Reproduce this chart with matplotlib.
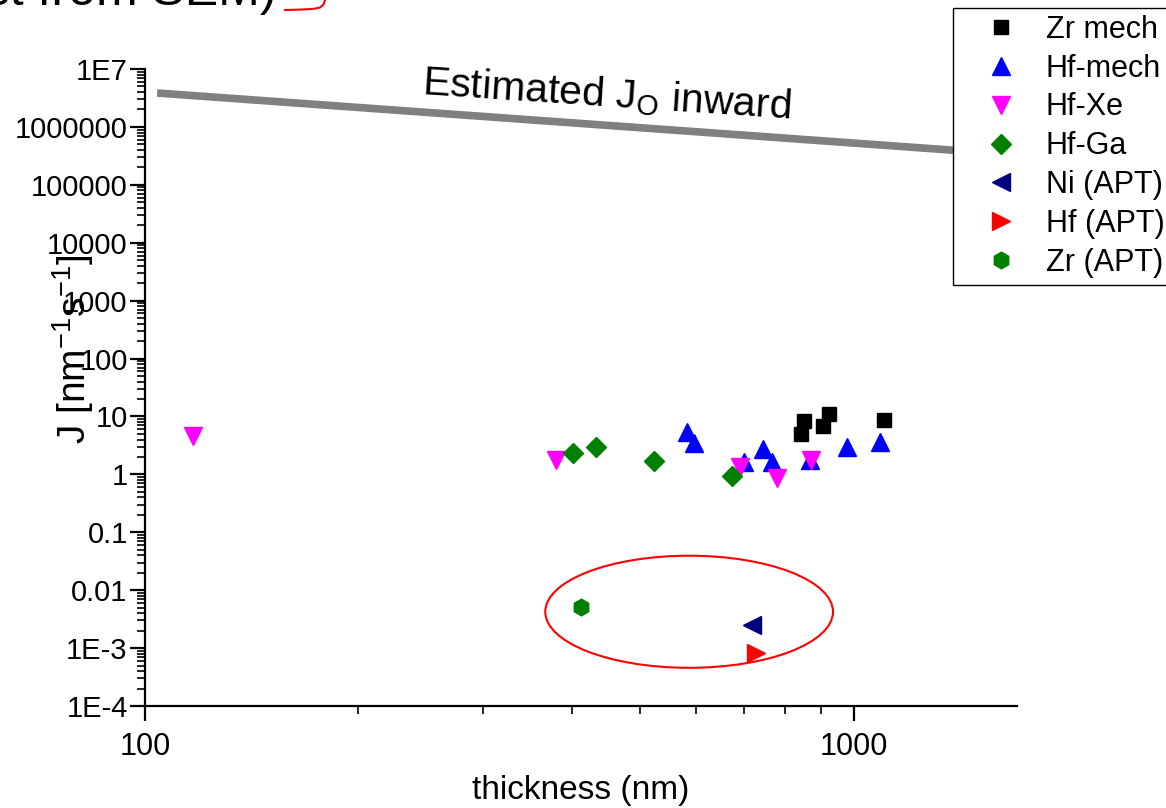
import numpy as np
import matplotlib
matplotlib.use("Agg")
import matplotlib.pyplot as plt
from matplotlib.patches import Ellipse
from matplotlib.lines import Line2D
from matplotlib.ticker import FixedLocator, FixedFormatter, LogLocator, NullFormatter

plt.rcParams['font.family'] = ['Liberation Sans', 'DejaVu Sans']
plt.rcParams['mathtext.fontset'] = 'custom'
plt.rcParams['mathtext.rm'] = 'Liberation Sans'
plt.rcParams['mathtext.it'] = 'Liberation Sans:italic'

# data (thickness in nm, J in nm^-1 s^-1)
zr_mech_x = [843, 851, 905, 923, 1102]
zr_mech_y = [4.97, 8.44, 6.9, 10.9, 8.68]
hf_mech_x = [582, 596, 700, 744, 767, 869, 979, 1090]
hf_mech_y = [5.44, 3.43, 1.65, 2.71, 1.65, 1.77, 2.92, 3.67]
hf_xe_x = [116.8, 380, 691, 779, 870]
hf_xe_y = [4.6, 1.77, 1.34, 0.86, 1.77]
hf_ga_x = [402, 433, 522, 673]
hf_ga_y = [2.36, 2.92, 1.72, 0.95]
ni_apt_x = [719]
ni_apt_y = [0.0025]
hf_apt_x = [728]
hf_apt_y = [0.00083]
zr_apt_x = [412]
zr_apt_y = [0.00516]

# estimated inward oxygen flux line
est_x = [104, 1700]
est_J = [3.85e6, 3.3e5]

ytick_vals = [1e-4, 1e-3, 1e-2, 1e-1, 1, 10, 100, 1e3, 1e4, 1e5, 1e6, 1e7]
ytick_labels = ['1E-4', '1E-3', '0.01', '0.1', '1', '10', '100', '1000',
                '10000', '100000', '1000000', '1E7']

fig = plt.figure(figsize=(11.66, 8.08), dpi=100)
ax = fig.add_axes([0.1244, 0.1262, 0.7478, 0.7884])

ax.plot(est_x, est_J, color='#808080', lw=5.5, solid_capstyle='butt', zorder=1)

ax.plot(zr_mech_x, zr_mech_y, 's', color='black', ms=10.5, ls='none', label='Zr mech')
ax.plot(hf_mech_x, hf_mech_y, '^', color='#0000ff', ms=13, ls='none', label='Hf-mech')
ax.plot(hf_xe_x, hf_xe_y, 'v', color='#ff00ff', ms=13, ls='none', label='Hf-Xe')
ax.plot(hf_ga_x, hf_ga_y, 'D', color='#008000', ms=10, ls='none', label='Hf-Ga')
ax.plot(ni_apt_x, ni_apt_y, '<', color='#000080', ms=13, ls='none', label='Ni (APT)')
ax.plot(hf_apt_x, hf_apt_y, '>', color='#ff0000', ms=13, ls='none', label='Hf (APT)')
ax.plot(zr_apt_x, zr_apt_y, 'h', color='#008000', ms=12, ls='none', label='Zr (APT)')

ax.set_xscale('log')
ax.set_yscale('log')
ax.set_xlim(100, 1700)
ax.set_ylim(1e-4, 1e7)

ax.yaxis.set_major_locator(FixedLocator(ytick_vals))
ax.yaxis.set_major_formatter(FixedFormatter(ytick_labels))
ax.yaxis.set_minor_locator(LogLocator(base=10, subs=np.arange(2, 10), numticks=30))
ax.yaxis.set_minor_formatter(NullFormatter())
ax.xaxis.set_major_locator(FixedLocator([100, 1000]))
ax.xaxis.set_major_formatter(FixedFormatter(['100', '1000']))
ax.xaxis.set_minor_locator(LogLocator(base=10, subs=np.arange(2, 10), numticks=30))
ax.xaxis.set_minor_formatter(NullFormatter())

for s in ['top', 'right']:
    ax.spines[s].set_visible(False)
for s in ['left', 'bottom']:
    ax.spines[s].set_linewidth(1.6)
ax.tick_params(which='major', direction='out', length=11, width=1.6)
ax.tick_params(axis='y', which='major', pad=1.5, labelsize=21)
ax.tick_params(axis='x', which='major', pad=8, labelsize=22)
ax.tick_params(which='minor', direction='out', length=6, width=1.2)

ax.set_xlabel('thickness (nm)', fontsize=24)
ax.xaxis.set_label_coords(0.5, -0.132)
ax.xaxis.label.set_va('center')
ax.set_ylabel('J [nm$^{-1}$s$^{-1}$]', fontsize=28)
ax.yaxis.set_label_coords(-0.083, 0.56)
ax.yaxis.label.set_va('center')

ax.text(0.3177, 0.9600, 'Estimated J$_\\mathrm{O}$ inward', transform=ax.transAxes,
        fontsize=29.5, rotation=-3.8, rotation_mode='anchor', ha='left', va='baseline')

ax.add_patch(Ellipse((0.624, 0.148), 0.330, 0.176, transform=ax.transAxes,
                     fill=False, ec='red', lw=1.5, clip_on=False))

ax.legend(loc='upper left', bbox_to_anchor=(953 / 1166, 1 - 8 / 808),
          bbox_transform=fig.transFigure, borderaxespad=0, fontsize=22,
          frameon=True, fancybox=False, edgecolor='black', framealpha=1,
          labelspacing=0.29, handletextpad=0.12, borderpad=0.22, handlelength=2.7)
ax.get_legend().get_frame().set_linewidth(1.0)

# partially visible heading at the top edge
fig.text(277 / 1166, 1 - 5 / 808, '(thickness est from SEM)', ha='right', va='baseline',
         fontsize=36)
bx = np.array([285, 300, 314, 320, 323.5, 325])
by = np.array([10, 9.6, 8.8, 7.5, 4.5, 0])
fig.add_artist(Line2D(bx / 1166, 1 - by / 808, color='red', lw=1.5, transform=fig.transFigure))

fig.savefig('out.png', dpi=100)
